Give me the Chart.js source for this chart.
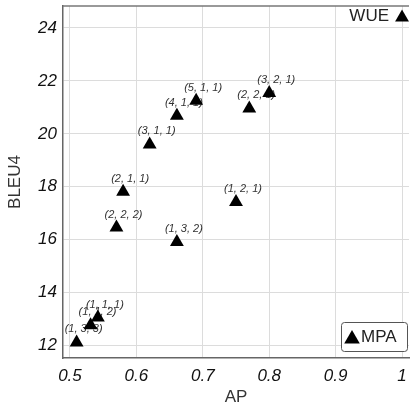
<!DOCTYPE html>
<html>
<head>
<meta charset="utf-8">
<script src="https://cdn.jsdelivr.net/npm/chart.js@4/dist/chart.umd.min.js"></script>
<style>
  html, body { margin: 0; padding: 0; background: #fff; }
  #wrap { width: 410px; height: 406px; }
</style>
</head>
<body>
<div id="wrap"><canvas id="c" width="410" height="406"></canvas></div>
<script>
// MPA configurations
const configLabels = ['(1, 3, 3)', '(1, 1, 2)', '(1, 1, 1)', '(2, 2, 2)', '(2, 1, 1)', '(1, 3, 2)',
                      '(3, 1, 1)', '(4, 1, 1)', '(5, 1, 1)', '(1, 2, 1)', '(2, 2, 1)', '(3, 2, 1)'];
const apValues   = [0.51, 0.531, 0.542, 0.57, 0.58, 0.661, 0.62, 0.661, 0.69, 0.75, 0.77, 0.80];
const bleuValues = [12.12, 12.77, 13.06, 16.46, 17.81, 15.91, 19.60, 20.68, 21.25, 17.42, 20.96, 21.54];

// baseline
const wueAP = [1.0];
const wueBLEU = [24.40];

const xTicks = [0.5, 0.6, 0.7, 0.8, 0.9, 1.0];
const yTicks = [12, 14, 16, 18, 20, 22, 24];

const fontFam = '"Liberation Sans", Arial, sans-serif';

const pointLabels = {
  id: 'pointLabels',
  beforeDatasetsDraw(chart) {
    const ctx = chart.ctx;
    const meta = chart.getDatasetMeta(0);
    ctx.save();
    ctx.font = 'italic 11px ' + fontFam;
    ctx.fillStyle = '#333';
    ctx.textAlign = 'center';
    ctx.textBaseline = 'middle';
    meta.data.forEach((pt, i) => {
      ctx.fillText(configLabels[i], pt.x + 7, pt.y - 13);
    });
    // WUE text
    const w = chart.getDatasetMeta(1).data[0];
    ctx.font = '17px ' + fontFam;
    ctx.fillStyle = '#222';
    ctx.textAlign = 'right';
    ctx.fillText('WUE', w.x - 13, w.y - 1);
    ctx.restore();
  },
  afterDraw(chart) {
    const ctx = chart.ctx;
    const a = chart.chartArea;
    ctx.save();
    // top frame
    ctx.strokeStyle = '#777';
    ctx.lineWidth = 1.5;
    ctx.beginPath();
    ctx.moveTo(a.left, a.top);
    ctx.lineTo(a.right, a.top);
    ctx.stroke();
    // legend box
    const bx = a.right - 68, by = a.bottom - 36, bw = 66, bh = 29;
    ctx.fillStyle = '#fff';
    ctx.strokeStyle = '#555';
    ctx.lineWidth = 1;
    ctx.beginPath();
    ctx.roundRect(bx + 0.5, by + 0.5, bw, bh, 3);
    ctx.fill();
    ctx.stroke();
    ctx.fillStyle = '#000';
    Chart.helpers.drawPoint(ctx, { pointStyle: 'triangle', radius: 9, rotation: 0, borderWidth: 0 }, bx + 11, by + 17);
    ctx.font = '17px ' + fontFam;
    ctx.fillStyle = '#222';
    ctx.textAlign = 'left';
    ctx.textBaseline = 'middle';
    ctx.fillText('MPA', bx + 20, by + 15);
    ctx.restore();
  }
};

new Chart(document.getElementById('c'), {
  type: 'scatter',
  data: {
    datasets: [
      {
        label: 'MPA',
        data: apValues.map((x, i) => ({ x: x, y: bleuValues[i] })),
        pointStyle: 'triangle',
        pointRadius: 8,
        pointHoverRadius: 8,
        backgroundColor: '#000',
        borderColor: '#000',
        borderWidth: 0
      },
      {
        label: 'WUE',
        data: wueAP.map((x, i) => ({ x: x, y: wueBLEU[i] })),
        pointStyle: 'triangle',
        pointRadius: 8,
        pointHoverRadius: 8,
        backgroundColor: '#000',
        borderColor: '#000',
        borderWidth: 0
      }
    ]
  },
  options: {
    responsive: false,
    animation: false,
    clip: false,
    layout: { autoPadding: false, padding: { top: 6, right: 1, left: 0, bottom: 0 } },
    plugins: {
      legend: { display: false },
      tooltip: { enabled: false }
    },
    scales: {
      x: {
        type: 'linear',
        min: 0.4895,
        max: 1.0105,
        afterBuildTicks: s => { s.ticks = xTicks.map(v => ({ value: v })); },
        afterFit: s => { s.height = 48; s.paddingLeft = 0; s.paddingRight = 0; },
        grid: { color: '#dcdcdc', lineWidth: 1, drawTicks: false },
        border: { color: '#666', width: 1.5 },
        ticks: {
          padding: 8,
          maxRotation: 0,
          autoSkip: false,
          color: '#111',
          font: { family: fontFam, size: 17, style: 'italic' },
          callback: v => String(Math.round(v * 10) / 10)
        },
        title: {
          display: true,
          text: 'AP',
          color: '#333',
          padding: { top: 0, bottom: 0 },
          font: { family: fontFam, size: 17, lineHeight: 1 }
        }
      },
      y: {
        type: 'linear',
        min: 11.53,
        max: 24.83,
        afterBuildTicks: s => { s.ticks = yTicks.map(v => ({ value: v })); },
        afterFit: s => { s.width = 63; s.paddingTop = 0; s.paddingBottom = 0; },
        grid: { color: '#dcdcdc', lineWidth: 1, drawTicks: false },
        border: { color: '#666', width: 1.5 },
        ticks: {
          padding: 6,
          autoSkip: false,
          color: '#111',
          font: { family: fontFam, size: 17, style: 'italic' }
        },
        title: {
          display: true,
          text: 'BLEU4',
          color: '#333',
          padding: { top: 7, bottom: 0 },
          font: { family: fontFam, size: 17, lineHeight: 1 }
        }
      }
    }
  },
  plugins: [pointLabels]
});
</script>
</body>
</html>
